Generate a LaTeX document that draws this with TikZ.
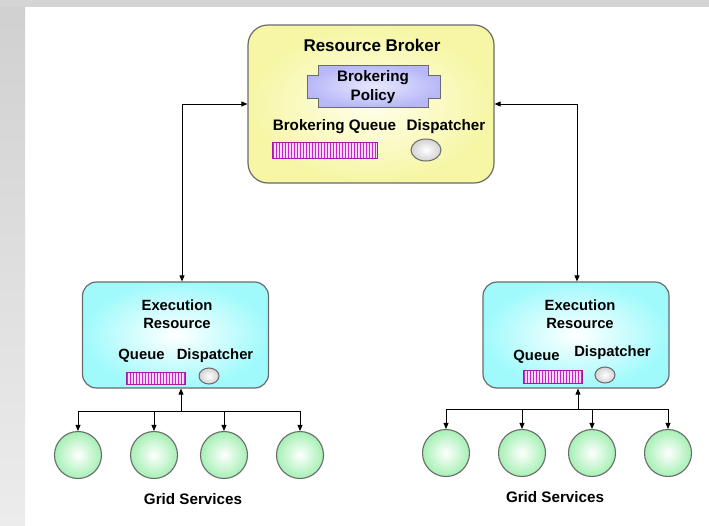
\documentclass[tikz,border=0pt]{standalone}
\usepackage{fontspec}
\setmainfont{Liberation Sans}
\usetikzlibrary{arrows.meta}
\definecolor{edgegray}{HTML}{6A6A6A}
\definecolor{bandgray}{HTML}{D4D4D4}
\definecolor{qmag}{HTML}{CC22CC}
\definecolor{qpink}{HTML}{FFD8FF}
\tikzset{
  lbl/.style={font=\bfseries\fontsize{15.2}{18}\selectfont, inner sep=0pt, align=center},
  exlbl/.style={font=\bfseries\fontsize{14.8}{18}\selectfont, inner sep=0pt, align=center},
  ttl/.style={font=\bfseries\fontsize{17}{19}\selectfont, inner sep=0pt},
  brokerbox/.style={draw=edgegray, line width=1.2pt, rounded corners=20pt, inner color=yellow!8, outer color={rgb,255:red,246;green,246;blue,165}, minimum width=246pt, minimum height=158pt, inner sep=0pt},
  execbox/.style={draw=edgegray, line width=1.2pt, rounded corners=14pt, inner color=white, outer color={rgb,255:red,160;green,250;blue,252}, minimum width=186pt, minimum height=106pt, inner sep=0pt},
  gridsvc/.style={circle, draw=edgegray, line width=1.1pt, inner color=white, outer color={rgb,255:red,165;green,240;blue,180}, minimum size=47pt, inner sep=0pt},
  conn/.style={draw=black, line width=0.8pt},
  tip/.style={-{Triangle[length=6pt,width=5pt]}},
}
\begin{document}
\begin{tikzpicture}[x=1pt,y=-1pt]
\useasboundingbox (0,0) rectangle (709,525);
% background
\fill[white] (0,0) rectangle (709,525);
\shade[top color={rgb,255:red,208;green,208;blue,208}, bottom color={rgb,255:red,236;green,236;blue,236}] (0,0) rectangle (25,525);
\fill[bandgray] (0,0) rectangle (709,7);

% broker
\node[brokerbox] (broker) at (371,104) {};
\node[ttl] (brtitle) at (372,45) {Resource Broker};
\shade[draw=edgegray, line width=1pt, inner color={rgb,255:red,232;green,232;blue,255}, outer color={rgb,255:red,184;green,184;blue,248}]
  (307,75) -- (318,75) -- (318,65) -- (428,65) -- (428,75) -- (440,75) -- (440,98) -- (428,98) -- (428,107) -- (318,107) -- (318,98) -- (307,98) -- cycle;
\node[lbl, font=\bfseries\fontsize{15.2}{19}\selectfont] (policy) at (373,87.5) {Brokering\\Policy};
\node[lbl] (bq) at (334.5,127) {Brokering Queue};
\node[lbl] (bd) at (446,127) {Dispatcher};
\fill[qpink] (272,142) rectangle (377,158);
\foreach \i in {0,...,34} { \draw[qmag, line width=1pt] (273.5+3*\i,142) -- (273.5+3*\i,158); }
\draw[qmag!80!black, line width=0.8pt] (272,142) rectangle (377,158);
\shade[draw=edgegray, line width=1pt, inner color=white, outer color=gray!35] (426,150) ellipse [x radius=15, y radius=11];

% left execution resource
\node[execbox] (exL) at (175.5,335) {};
\node[exlbl] (exLt) at (177,314) {Execution\\Resource};
\node[exlbl] (exLq) at (141.5,356) {Queue};
\node[exlbl] (exLd) at (215,356) {Dispatcher};
\fill[qpink] (126,372) rectangle (185,384);
\foreach \i in {0,...,19} { \draw[qmag, line width=1pt] (127.5+3*\i,372) -- (127.5+3*\i,384); }
\draw[qmag!80!black, line width=0.8pt] (126,372) rectangle (185,384);
\shade[draw=edgegray, line width=1pt, inner color=white, outer color=gray!35] (209,376) ellipse [x radius=10, y radius=8];

% right execution resource
\node[execbox] (exR) at (576,335) {};
\node[exlbl] (exRt) at (580,314) {Execution\\Resource};
\node[exlbl] (exRq) at (536.5,357) {Queue};
\node[exlbl] (exRd) at (612.5,353) {Dispatcher};
\fill[qpink] (523,370) rectangle (582,383);
\foreach \i in {0,...,19} { \draw[qmag, line width=1pt] (524.5+3*\i,370) -- (524.5+3*\i,383); }
\draw[qmag!80!black, line width=0.8pt] (523,370) rectangle (582,383);
\shade[draw=edgegray, line width=1pt, inner color=white, outer color=gray!35] (605,375) ellipse [x radius=10, y radius=8];

% broker <-> execution resources
\draw[conn, {Triangle[length=6pt,width=5pt]}-{Triangle[length=6pt,width=5pt]}] ([xshift=6.5pt]exL.north) |- (broker.west);
\draw[conn, {Triangle[length=6pt,width=5pt]}-{Triangle[length=6pt,width=5pt]}] ([xshift=1pt]exR.north) |- (broker.east);

% left grid services
\node[gridsvc] (gL1) at (78,455) {};
\node[gridsvc] (gL2) at (154,455) {};
\node[gridsvc] (gL3) at (224,455) {};
\node[gridsvc] (gL4) at (300,455) {};
\coordinate (jL) at (181,411);
\draw[conn, tip] (jL) -- (jL |- exL.south);
\draw[conn] (gL1 |- jL) -- (gL4 |- jL);
\foreach \g in {gL1,gL2,gL3,gL4} { \draw[conn, tip] (\g |- jL) -- (\g.north); }
\node[lbl] (gsL) at (193,499) {Grid Services};

% right grid services
\node[gridsvc] (gR1) at (446,453) {};
\node[gridsvc] (gR2) at (522,453) {};
\node[gridsvc] (gR3) at (592,453) {};
\node[gridsvc] (gR4) at (668,453) {};
\coordinate (jR) at (578,409);
\draw[conn, tip] (jR) -- (jR |- exR.south);
\draw[conn] (gR1 |- jR) -- (gR4 |- jR);
\foreach \g in {gR1,gR2,gR3,gR4} { \draw[conn, tip] (\g |- jR) -- (\g.north); }
\node[lbl] (gsR) at (555,497) {Grid Services};
\end{tikzpicture}
\end{document}
